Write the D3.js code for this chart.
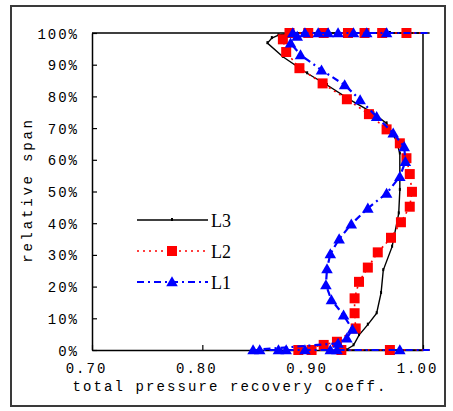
<!DOCTYPE html>
<html>
<head>
<meta charset="utf-8">
<script src="https://cdn.jsdelivr.net/npm/d3@7"></script>
<style>
  html, body { margin: 0; padding: 0; background: #fff; }
  svg { display: block; }
  .mono { font-family: "Liberation Mono", "DejaVu Sans Mono", monospace; fill: #000; }
</style>
</head>
<body>
<svg id="chart" width="453" height="411"></svg>
<script>
// Total pressure recovery coefficient vs. relative span (%), three blade rows.
// Each series: [coefficient, relative span %]
const L3 = [
  [1.006, 0], [0.970, 0], [0.930, 0], [0.937, 1.5], [0.942, 4.7], [0.950, 8.0],
  [0.958, 11.6], [0.962, 18.0], [0.964, 25.2], [0.972, 32.6], [0.978, 43.1],
  [0.979, 50.5], [0.979, 54.7], [0.979, 62.0], [0.976, 66.0], [0.967, 71.5],
  [0.955, 74.7], [0.934, 78.9], [0.913, 83.6], [0.895, 87.3], [0.873, 92.5],
  [0.859, 96.8], [0.863, 98.4], [0.869, 99.3], [0.880, 100], [0.930, 100],
  [0.970, 100], [1.006, 100]
];
const L2 = [
  [1.006, 0], [0.970, 0], [0.926, 0], [0.899, 0], [0.887, 0], [0.910, 1.6],
  [0.922, 2.6], [0.939, 6.8], [0.938, 11.6], [0.938, 16.3], [0.942, 21.5],
  [0.950, 26.0], [0.959, 30.8], [0.971, 35.4], [0.980, 40.3], [0.988, 45.2],
  [0.990, 49.9], [0.988, 55.5], [0.985, 60.5], [0.979, 65.2], [0.967, 69.6],
  [0.951, 74.4], [0.931, 79.1], [0.909, 84.1], [0.888, 88.9], [0.876, 94.0],
  [0.873, 98.0], [0.879, 100], [0.896, 100], [0.910, 100], [0.932, 100],
  [0.947, 100], [0.963, 100], [0.985, 100], [1.006, 100]
];
const L1 = [
  [1.006, 0], [0.979, 0], [0.922, 0], [0.916, 0], [0.893, 0], [0.876, 0],
  [0.869, 0], [0.852, 0], [0.846, 0], [0.923, 2.1], [0.931, 3.7], [0.936, 6.5],
  [0.928, 11.0], [0.917, 15.8], [0.912, 20.5], [0.913, 25.6], [0.916, 30.3],
  [0.924, 35.0], [0.935, 39.7], [0.950, 44.7], [0.967, 49.4], [0.979, 54.7],
  [0.984, 59.4], [0.983, 64.1], [0.973, 68.4], [0.958, 73.6], [0.943, 78.9],
  [0.929, 83.6], [0.908, 88.3], [0.889, 93.1], [0.880, 96.8], [0.886, 98.9],
  [0.882, 100], [0.893, 100], [0.905, 100], [0.914, 100], [0.923, 100],
  [0.937, 100], [0.949, 100], [0.967, 100], [1.006, 100]
];

const xTicks = [0.70, 0.80, 0.90, 1.00];
const yTicks = [0, 10, 20, 30, 40, 50, 60, 70, 80, 90, 100];
const seriesNames = ["L3", "L2", "L1"];
const xTitle = "total pressure recovery coeff.";
const yTitle = "relative span";

const svg = d3.select("#chart");
const plot = { left: 92, top: 33, right: 423, bottom: 350 };

// outer chart frame
svg.append("rect")
  .attr("x", 11).attr("y", 6).attr("width", 434).attr("height", 400)
  .attr("fill", "none").attr("stroke", "#3a3a3a").attr("stroke-width", 2);

const x = d3.scaleLinear().domain([0.70, 1.00]).range([plot.left, plot.right]);
const y = d3.scaleLinear().domain([0, 100]).range([plot.bottom, plot.top]);

// plot area border (top and right)
svg.append("path")
  .attr("d", `M${plot.left},${plot.top}H${plot.right}V${plot.bottom}`)
  .attr("fill", "none").attr("stroke", "#000").attr("stroke-width", 1.5);

// axes with inward ticks
const yAxis = d3.axisLeft(y).tickValues(yTicks)
  .tickSizeInner(-5).tickSizeOuter(0).tickPadding(13)
  .tickFormat(d => d + "%");
const gy = svg.append("g").attr("transform", `translate(${plot.left},0)`).call(yAxis);
gy.select(".domain").attr("stroke", "#000").attr("stroke-width", 1.5);
gy.selectAll(".tick line").attr("stroke", "#000").attr("stroke-width", 1.2);
gy.selectAll(".tick text").attr("class", "mono")
  .style("font-size", "14px").style("letter-spacing", "2px").attr("dy", "0.36em");

const xAxis = d3.axisBottom(x).tickValues(xTicks)
  .tickSizeInner(-5).tickSizeOuter(0).tickPadding(20)
  .tickFormat(d3.format(".2f"));
const gx = svg.append("g").attr("transform", `translate(0,${plot.bottom})`).call(xAxis);
gx.select(".domain").attr("stroke", "#000").attr("stroke-width", 1.5);
gx.selectAll(".tick line").attr("stroke", "#000").attr("stroke-width", 1.2);
gx.selectAll(".tick text").attr("class", "mono")
  .style("font-size", "14px").style("letter-spacing", "2px")
  .attr("dx", -6).attr("dy", "0.2em");

// axis titles
svg.append("text").attr("class", "mono")
  .attr("x", 230).attr("y", 391).attr("text-anchor", "middle")
  .style("font-size", "14px").style("letter-spacing", "2.1px")
  .text(xTitle);
svg.append("text").attr("class", "mono")
  .attr("transform", "translate(32,190) rotate(-90)").attr("text-anchor", "middle")
  .style("font-size", "14px").style("letter-spacing", "2.8px")
  .text(yTitle);

const line = d3.line().x(d => x(d[0])).y(d => y(d[1]));
const inRange = d => d[0] <= 1.0;

const styles = {
  L3: { color: "#000", width: 1.4, dash: null },
  L2: { color: "#ff0000", width: 1.6, dash: "2,4" },
  L1: { color: "#0000ff", width: 2.2, dash: "7,4,2,4" }
};

function marker(g, name, cx, cy) {
  if (name === "L3") {
    g.append("rect").attr("x", cx - 1).attr("y", cy - 2).attr("width", 2).attr("height", 3)
      .attr("fill", "#000");
  } else if (name === "L2") {
    g.append("rect").attr("x", cx - 5).attr("y", cy - 5).attr("width", 10).attr("height", 10)
      .attr("fill", "#ff0000");
  } else {
    g.append("path").attr("d", d3.symbol(d3.symbolTriangle, 58)())
      .attr("transform", `translate(${cx},${cy + 1})`).attr("fill", "#0000ff");
  }
}

const data = { L3, L2, L1 };
seriesNames.forEach(name => {
  const s = styles[name];
  const g = svg.append("g");
  g.append("path").attr("d", line(data[name]))
    .attr("fill", "none").attr("stroke", s.color).attr("stroke-width", s.width)
    .attr("stroke-dasharray", s.dash);
  data[name].filter(inRange).forEach(d => marker(g, name, x(d[0]), y(d[1])));
});

// legend
const legendY = { L3: 220, L2: 251, L1: 282 };
seriesNames.forEach(name => {
  const s = styles[name];
  const g = svg.append("g");
  const ly = legendY[name];
  g.append("line").attr("x1", 137).attr("x2", 208).attr("y1", ly).attr("y2", ly)
    .attr("stroke", s.color).attr("stroke-width", s.width).attr("stroke-dasharray", s.dash);
  marker(g, name, 172, ly);
  g.append("text").attr("x", 211).attr("y", ly + 6.5)
    .style("font-family", "'Liberation Serif', 'DejaVu Serif', serif")
    .style("font-size", "18px").attr("fill", "#000").text(name);
});
</script>
</body>
</html>
